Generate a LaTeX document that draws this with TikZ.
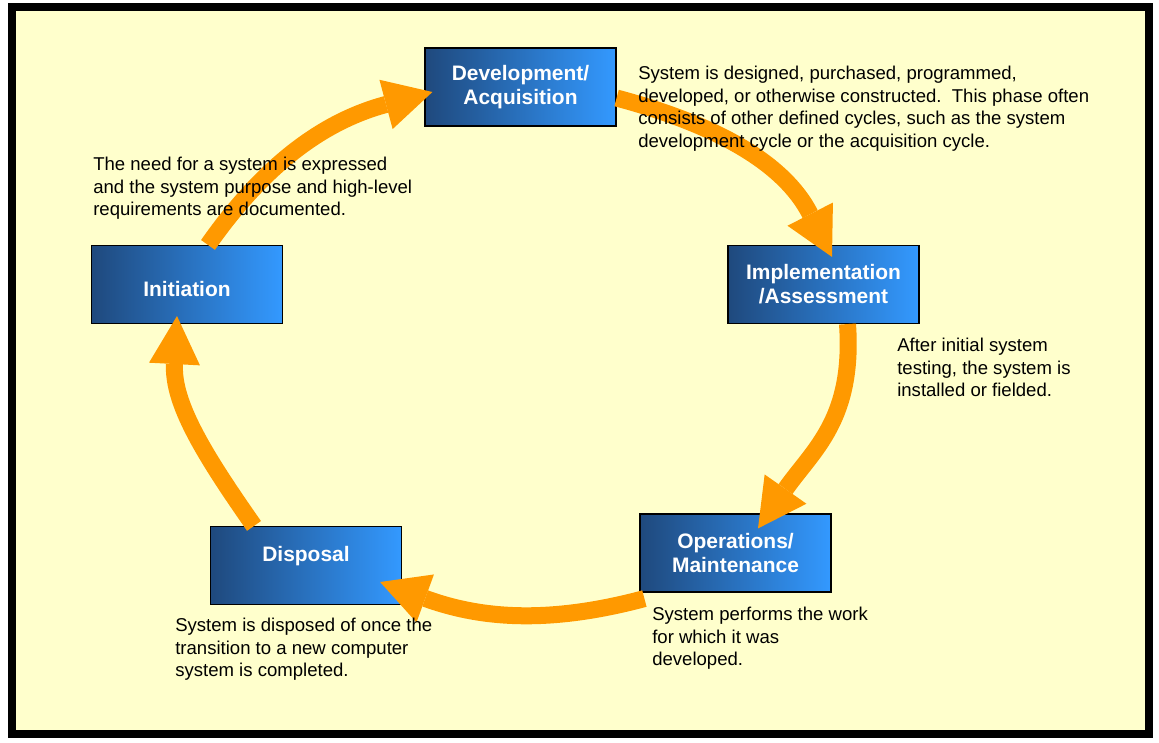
\documentclass[tikz,border=0pt]{standalone}
\usepackage{fontspec}
\setmainfont{Liberation Sans}
\usetikzlibrary{arrows.meta,calc}

\definecolor{fondo}{HTML}{FFFFCC}
\definecolor{naranja}{HTML}{FF9900}
\definecolor{azuloscuro}{HTML}{1F497D}
\definecolor{azulclaro}{HTML}{3399FF}

\begin{document}
\begin{tikzpicture}[x=0.025cm, y=0.025cm,
	fase/.style={rectangle, draw=black, line width=0.8pt, left color=azuloscuro, right color=azulclaro,
		minimum width=4.775cm, minimum height=1.95cm, inner sep=0pt, align=center, text=white,
		font=\fontsize{14.9}{17}\selectfont\bfseries, execute at begin node=\rule{0pt}{17pt}},
	nota/.style={anchor=north west, inner sep=0pt, align=left, font=\fontsize{13.2}{16}\selectfont},
	ciclo/.style={draw=naranja, line width=0.425cm, -{Triangle[length=1.2cm, width=1.275cm, line width=0pt]}}]
		
		% Marco
		\fill[white] (0,0) rectangle (1159,-743);
		\useasboundingbox (0,0) rectangle (1159,-743);
		\draw[fill=fondo, line width=0.2cm] (12,-7) rectangle (1149,-734);
		
		% Fases del ciclo
		\node[fase] (init) at (187,-284.5) {Initiation};
		\node[fase] (dev) at (520.5,-87) {Development/\\Acquisition};
		\node[fase] (impl) at (823.5,-284.5) {Implementation\\/Assessment};
		\node[fase] (ops) at (735.5,-553) {Operations/\\Maintenance};
		\node[fase] (disp) at (306,-565.5) {Disposal\\\mbox{}};
		
		% Flechas entre fases
		\draw[ciclo] ($(init.north)+(21,0)$) to[out=55, in=195] ($(dev.west)+(8,-5)$);
		\draw[ciclo] ($(dev.east)+(0,-11)$) to[out=-15, in=117] ($(impl.north)+(8.5,-12)$);
		\draw[ciclo] ($(impl.south)+(24,0)$) to[out=-86, in=55, looseness=1.1] ($(ops.north)+(22.5,-15)$);
		\draw[ciclo] ($(ops.south west)+(5,-6)$) to[out=195, in=-20] ($(disp.east)+(-22,-16.5)$);
		\draw[ciclo] ($(disp.north)+(-52,0)$) to[out=125, in=-93] ($(init.south)+(-10,8)$);
		
		% Descripciones
		\node[nota] (initnota) at (93,-157) {The need for a system is expressed\\and the system purpose and high-level\\requirements are documented.};
		\node[nota] (devnota) at (638,-66) {System is designed, purchased, programmed,\\developed, or otherwise constructed.\ \ This phase often\\consists of other defined cycles, such as the system\\development cycle or the acquisition cycle.};
		\node[nota] (implnota) at (897,-338) {After initial system\\testing, the system is\\installed or fielded.};
		\node[nota] (opsnota) at (652,-607) {System performs the work\\for which it was\\developed.};
		\node[nota] (dispnota) at (175,-618) {System is disposed of once the\\transition to a new computer\\system is completed.};
		
	\end{tikzpicture}
\end{document}
